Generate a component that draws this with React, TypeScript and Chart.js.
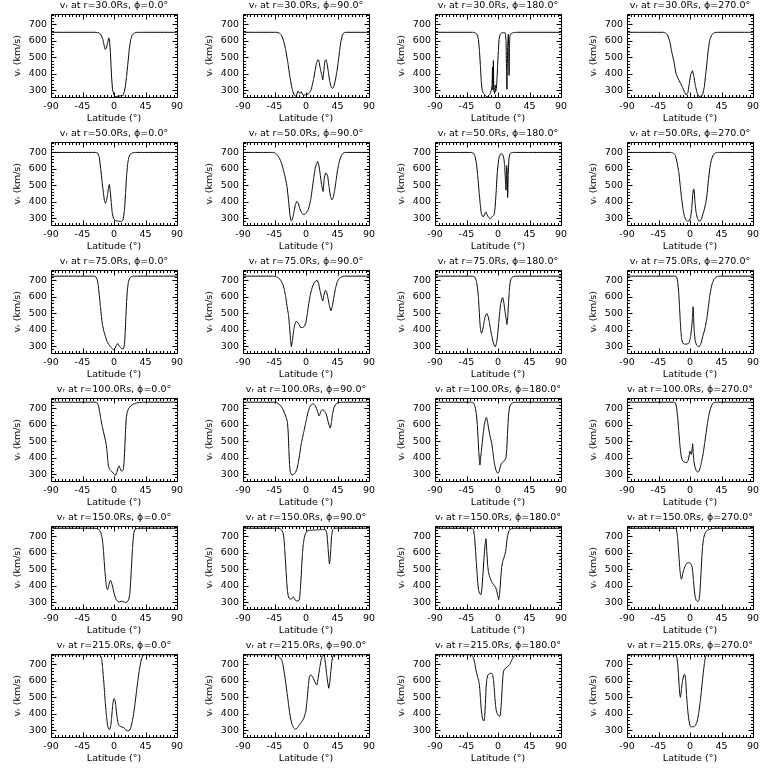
import React, { useEffect, useRef } from "react";
import { Chart, registerables } from "chart.js";

Chart.register(...registerables);

// ---------- categories / tick labels ----------
const radii = ["30.0", "50.0", "75.0", "100.0", "150.0", "215.0"];
const phis = ["0.0", "90.0", "180.0", "270.0"];
const latTicks = [-90, -45, 0, 45, 90];
const vTicks = [300, 400, 500, 600, 700];
const latRange = [-90, 90];
const vRange = [258, 761];

// ---------- series: [latitude (deg), v_r (km/s)] ----------
const r30_p0: number[][] = [[-90,652],[-26,652],[-22,649],[-19,640],[-16,610],[-14,570],[-12.5,548],[-11,556],[-9,590],[-7.5,618],[-6.5,612],[-5,520],[-3.5,380],[-2,300],[0,270],[2,260],[5,262],[9,265],[13,268],[15,295],[16.5,330],[18,385],[20,470],[22,555],[24,610],[26,635],[29,648],[33,652],[90,652]];
const r30_p90: number[][] = [[-90,652],[-42,652],[-38,647],[-35,635],[-32,600],[-29,545],[-26,470],[-23,380],[-20,310],[-17,270],[-14,262],[-11.5,295],[-10,285],[-8.5,280],[-7,290],[-5,275],[-3,268],[-1,272],[1,280],[3,275],[5,285],[7,300],[9,330],[11,370],[13,420],[15,465],[17,485],[18.5,480],[20,440],[22,400],[24,362],[25.5,420],[27,478],[28.5,485],[30,465],[32,410],[34,350],[36,320],[38,310],[40,325],[42,360],[44,410],[46,470],[48,540],[50,600],[52,635],[54,648],[57,652],[90,652]];
const r30_p180: number[][] = [[-90,652],[-36,652],[-33,650],[-30,640],[-28,610],[-26.5,540],[-25,440],[-24,360],[-23,310],[-21.5,285],[-19.5,274],[-17,262],[-15,260],[-13,268],[-11,280],[-9.5,300],[-8.5,330],[-7.8,440],[-7.2,300],[-6.6,480],[-6,300],[-5,280],[-4,330],[-3.5,290],[-2.5,300],[-1.5,360],[-0.5,450],[0.5,540],[1.5,610],[3,640],[5,648],[8,650],[10.5,648],[11.5,600],[12.2,420],[12.7,305],[13.2,420],[14,600],[14.8,640],[15.3,560],[15.8,390],[16.3,560],[17,630],[19,645],[22,650],[26,652],[90,652]];
const r30_p270: number[][] = [[-90,652],[-38,652],[-35,648],[-32,635],[-29,600],[-26,530],[-23,475],[-20,400],[-17,370],[-14,345],[-11,320],[-8,290],[-5.5,270],[-3,285],[-1,340],[1,395],[3.5,418],[5.5,385],[7.5,330],[10,285],[12.5,262],[15,262],[18,272],[20.5,320],[22.5,400],[24.5,480],[26.5,560],[28.5,610],[31,635],[34,648],[38,652],[90,652]];

const r50_p0: number[][] = [[-90,700],[-26,700],[-23,695],[-21,670],[-19,600],[-17,520],[-15,450],[-13.5,400],[-12,390],[-10.5,410],[-9,450],[-7.5,495],[-6.5,505],[-5.5,470],[-4,400],[-2.5,330],[-0.5,295],[2,285],[5,282],[8,280],[11,280],[13,290],[15,350],[16.5,450],[18,560],[19.5,630],[21,668],[23,688],[26,697],[30,700],[90,700]];
const r50_p90: number[][] = [[-90,700],[-47,700],[-44,696],[-41,685],[-38,665],[-35,635],[-33,605],[-30,555],[-27,490],[-25,410],[-23,320],[-21.5,285],[-19.5,290],[-17.5,330],[-15,385],[-13,402],[-11,390],[-9,360],[-7,338],[-5,326],[-3,320],[-1,325],[1,335],[3,350],[5,378],[7,420],[9,480],[11,545],[13,600],[15,630],[16.7,645],[18.5,620],[20.5,560],[22.5,495],[24.4,462],[26,540],[27.7,574],[29.5,570],[31,555],[33,490],[35,430],[37.2,412],[39,425],[41,470],[43,530],[45,590],[47,635],[49,665],[51,685],[53,696],[56,700],[90,700]];
const r50_p180: number[][] = [[-90,700],[-38,700],[-35,695],[-33,680],[-31,640],[-29,560],[-27,460],[-25.5,390],[-24,330],[-22.5,312],[-20.5,310],[-18.5,328],[-17,338],[-15.5,320],[-13.5,305],[-11,295],[-9,305],[-7,315],[-5.5,320],[-4,370],[-2.5,470],[-1,580],[1,660],[3,688],[5,692],[7,685],[8.5,660],[9.5,620],[10.5,540],[11.5,470],[12.3,620],[13,600],[13.8,425],[14.6,560],[15.5,660],[17,692],[19,698],[22,700],[90,700]];
const r50_p270: number[][] = [[-90,700],[-27,700],[-24,696],[-21,683],[-18.5,640],[-16,580],[-14,500],[-12,420],[-10,355],[-8,310],[-6,290],[-3.5,280],[-1,285],[1,305],[2.5,360],[3.8,440],[5,478],[6,470],[7,400],[8.5,340],[10.5,300],[12.5,284],[14.5,282],[16.5,295],[18.5,325],[20.5,355],[22.5,390],[24.5,450],[26.5,540],[28.5,610],[30.5,655],[33,683],[36,697],[40,700],[90,700]];

const r75_p0: number[][] = [[-90,726],[-28,726],[-26,722],[-24,705],[-22.5,670],[-21,610],[-19.5,545],[-18,480],[-16.5,430],[-14.5,390],[-12.5,362],[-10,330],[-7.5,310],[-5,295],[-2.5,285],[-0.5,278],[1.5,285],[3.5,305],[5.3,316],[7,305],[9,292],[11.5,282],[13.5,285],[15,310],[16,380],[17,480],[18,570],[19,640],[20.5,690],[22.5,715],[25,723],[28,726],[90,726]];
const r75_p90: number[][] = [[-90,726],[-46,726],[-42,722],[-39,715],[-36,700],[-33,675],[-31,645],[-29,600],[-27,540],[-25,490],[-23.5,420],[-22,340],[-21,296],[-19.5,330],[-17.5,400],[-15.5,440],[-14,452],[-12,445],[-10,432],[-8,415],[-6,412],[-4,415],[-2,422],[0,445],[2,500],[4,560],[6,610],[8,645],[10,670],[12,690],[14,695],[15.8,702],[18,680],[20.5,630],[22.5,590],[24,575],[25.5,610],[27.5,640],[29.5,630],[31.5,590],[33.5,545],[35.5,515],[37.5,540],[39.5,590],[42,650],[44.5,690],[47,710],[50,720],[53,725],[56,726],[90,726]];
const r75_p180: number[][] = [[-90,726],[-36,726],[-33,720],[-31,700],[-29.5,660],[-28,600],[-27,530],[-26,450],[-25,400],[-23.5,378],[-22,395],[-20.5,430],[-19,470],[-17,493],[-15.5,497],[-14,480],[-12.5,450],[-11,410],[-9,365],[-7,325],[-5,300],[-3.5,297],[-2,320],[-0.5,370],[1,440],[2.5,510],[4,560],[5.5,590],[7,595],[8.5,560],[10,510],[11.5,470],[12.8,432],[14,480],[15,560],[16,630],[17,680],[18.5,710],[21,722],[25,726],[90,726]];
const r75_p270: number[][] = [[-90,726],[-21,726],[-19,720],[-17.5,690],[-16,620],[-15,540],[-14,460],[-13,390],[-12,345],[-10.5,318],[-8,312],[-5,312],[-3,315],[-1,320],[1,360],[2.5,420],[3.5,470],[4.5,540],[5.2,470],[6,390],[7.5,330],[9.5,305],[12,296],[14,300],[16,320],[18,355],[20,385],[22,420],[24,465],[26,530],[28,600],[30,650],[32,685],[34,705],[37,720],[41,726],[90,726]];

const r100_p0: number[][] = [[-90,738],[-26,738],[-23.5,732],[-22,715],[-20.5,680],[-19,640],[-17,595],[-15,555],[-13,520],[-11.5,490],[-10,440],[-9,390],[-8,350],[-6.5,330],[-4.5,320],[-2,312],[0,300],[2,292],[4,310],[6,340],[7.5,350],[9,332],[10.5,318],[12,322],[13.5,330],[14.5,380],[15.5,470],[16.5,570],[17.5,640],[19,680],[21,700],[24,715],[28,727],[33,734],[40,738],[90,738]];
const r100_p90: number[][] = [[-90,738],[-46,738],[-42,735],[-39,728],[-36,715],[-33,695],[-30,665],[-28,640],[-26.5,615],[-25.5,560],[-24.5,450],[-23.5,360],[-22.5,310],[-21,298],[-19,296],[-17,300],[-15,310],[-13,330],[-11,370],[-9,420],[-7,480],[-5,520],[-3,560],[-1,600],[1,640],[3,680],[5,705],[7,720],[9,727],[11,726],[13,718],[15,700],[17,675],[18.5,655],[20,665],[21.5,685],[23,692],[25,690],[27,680],[29,665],[31,630],[33,595],[35,580],[36.5,620],[38,670],[40,705],[42.5,725],[45,734],[50,738],[90,738]];
const r100_p180: number[][] = [[-90,738],[-37,738],[-35,733],[-33,715],[-31,670],[-29.5,600],[-28.5,520],[-27.5,440],[-26.5,380],[-25.8,355],[-25,390],[-24,430],[-22.5,490],[-21,550],[-19.5,600],[-18,630],[-17,645],[-16,640],[-15,620],[-13.5,580],[-12,545],[-10.5,515],[-9,490],[-7.5,440],[-6,390],[-4.5,350],[-3,325],[-1.5,310],[0,305],[1.5,315],[3,340],[4.5,360],[6,370],[8,378],[10,385],[11.5,400],[12.5,450],[13.5,540],[14.5,620],[15.5,680],[17,715],[19,730],[22,736],[26,738],[90,738]];
const r100_p270: number[][] = [[-90,738],[-23,738],[-20.5,732],[-19,700],[-17.5,640],[-16,560],[-14.5,480],[-13,420],[-11.5,390],[-10,378],[-8,372],[-6,370],[-4,372],[-2.5,385],[-1,420],[0,440],[1,425],[2,420],[3,450],[3.8,485],[4.6,430],[5.5,380],[7,345],[9,320],[11,312],[13,318],[15,345],[17,385],[19,430],[21,490],[23,550],[25,610],[27,660],[29,695],[31,720],[33,733],[36,738],[90,738]];

const r150_p0: number[][] = [[-90,750],[-28,750],[-24,747],[-21,740],[-19,725],[-17.5,700],[-16,660],[-15,610],[-14,550],[-13,490],[-12,440],[-11,400],[-10,380],[-9,376],[-8,390],[-7,410],[-6,425],[-5,432],[-4,425],[-3,410],[-1.5,385],[0,355],[2,325],[4,310],[6,303],[8,302],[10,304],[12,305],[13.5,302],[15,300],[17,298],[19,302],[21,315],[22.5,345],[23.5,400],[24.5,480],[25.5,560],[26.5,630],[27.5,690],[28.5,725],[30,742],[33,748],[37,750],[90,750]];
const r150_p90: number[][] = [[-90,750],[-40,750],[-37,747],[-35,740],[-33,725],[-31.5,690],[-30.5,630],[-29.5,560],[-28.5,490],[-27.5,420],[-26.5,370],[-25.5,340],[-24,322],[-22,318],[-20,322],[-18.5,332],[-17,325],[-15.5,312],[-13.5,308],[-11.5,306],[-10,310],[-9,330],[-8,380],[-7,450],[-6,530],[-5,600],[-4,650],[-2.5,690],[-1,715],[1,730],[3,736],[6,738],[9,738],[12,739],[15,740],[18,740],[21,741],[24,742],[26,742],[28,740],[29.5,725],[30.5,690],[31.5,630],[32.5,570],[33.5,532],[34.5,560],[35.5,630],[36.5,700],[38,738],[40,748],[43,750],[90,750]];
const r150_p180: number[][] = [[-90,750],[-37,750],[-35,740],[-33.5,700],[-32,610],[-31,545],[-30,483],[-29,420],[-27.7,370],[-26,350],[-24.4,345],[-23,380],[-21.5,470],[-20,570],[-18.5,650],[-17.2,686],[-16,610],[-14.8,523],[-13.5,480],[-12.4,462],[-10.5,438],[-9,422],[-7,410],[-5.3,401],[-3.5,390],[-1.9,371],[-0.5,340],[1,316],[2,340],[2.9,381],[4,450],[5.3,513],[6.5,545],[8,564],[10,590],[11.5,625],[12.8,680],[13.8,706],[15.5,732],[17.7,745],[21,749],[25,750],[90,750]];
const r150_p270: number[][] = [[-90,750],[-22,750],[-19.5,745],[-18.5,720],[-17.5,680],[-16.5,620],[-15.5,560],[-14.5,500],[-13.5,460],[-12.5,440],[-11.5,445],[-10.5,470],[-9,495],[-7.5,515],[-6,528],[-4.5,536],[-3,540],[-1.5,540],[0,538],[1.5,532],[3,515],[4,480],[5,430],[6,380],[7,345],[8,322],[9,310],[10,305],[11,304],[12,306],[13,315],[14,350],[15,420],[16,500],[17,580],[18,640],[19.5,690],[21,715],[23,730],[26,740],[30,746],[35,750],[90,750]];

const r215_p0: number[][] = [[-90,759],[-21,759],[-19,752],[-17.5,730],[-16.5,690],[-15.5,640],[-14.5,590],[-13.5,530],[-12.5,470],[-11.5,420],[-10.5,375],[-9.5,340],[-8.5,318],[-7.5,306],[-6.5,303],[-5.5,310],[-4.5,330],[-3.5,370],[-2.5,420],[-1.5,465],[-0.5,488],[0.5,492],[1.5,480],[2.5,450],[3.5,410],[4.5,375],[5.5,350],[6.5,335],[8,325],[10,320],[12,318],[14,315],[16,305],[18,298],[20,295],[22,298],[24,315],[26,350],[28,400],[30,460],[32,530],[34,600],[36,660],[38,710],[40,742],[42,757],[44,759],[90,759]];
const r215_p90: number[][] = [[-90,759],[-44,759],[-41,755],[-38,745],[-36,735],[-34.4,722],[-33,700],[-31,650],[-29,590],[-27,525],[-25,460],[-23.4,405],[-21.5,360],[-19.6,330],[-17.5,312],[-15.8,305],[-14,308],[-12,315],[-10,328],[-8,340],[-6,352],[-3.3,370],[-1.5,395],[0,420],[1.2,470],[2.4,523],[3.5,580],[4.8,625],[6.5,636],[8.5,630],[10.5,615],[12.5,595],[14.5,578],[15.8,575],[17.5,620],[19.6,680],[21.5,725],[23,748],[25,757],[26.5,745],[28,700],[29.5,640],[31,590],[32.5,555],[34,590],[35.5,660],[37,720],[38.5,750],[40,759],[90,759]];
const r215_p180: number[][] = [[-90,759],[-39,759],[-37,755],[-35,740],[-33,705],[-31.5,665],[-30,640],[-28.5,615],[-27,590],[-26,550],[-25,490],[-24,430],[-23,390],[-22,368],[-21,358],[-20,356],[-19,380],[-18,460],[-17,560],[-16,610],[-14.5,635],[-13,642],[-11,646],[-9,645],[-7.5,635],[-6.5,610],[-5.5,560],[-4.5,500],[-3.5,450],[-2.5,420],[-1,398],[0.5,388],[2,384],[3,386],[4,420],[5,480],[6,560],[7,630],[8,660],[9.5,673],[11.5,678],[13.5,685],[15,692],[17,702],[19,720],[21,737],[23,750],[25,757],[27,759],[90,759]];
const r215_p270: number[][] = [[-90,759],[-21,759],[-19.5,752],[-18.5,735],[-17.5,700],[-16.5,640],[-15.5,570],[-14.5,515],[-13.8,500],[-13,515],[-12,555],[-11,590],[-10,615],[-9,632],[-8,640],[-7,635],[-6,595],[-5,520],[-4,460],[-3,410],[-2,375],[-1,345],[0,328],[1,322],[2,320],[4,320],[6,322],[8,330],[10,350],[11.5,380],[13,420],[14.5,470],[16,525],[17.5,590],[19,650],[20.5,705],[22,745],[23.5,757],[25,759],[90,759]];

const panelSeries: number[][][][] = [
  [r30_p0, r30_p90, r30_p180, r30_p270],
  [r50_p0, r50_p90, r50_p180, r50_p270],
  [r75_p0, r75_p90, r75_p180, r75_p270],
  [r100_p0, r100_p90, r100_p180, r100_p270],
  [r150_p0, r150_p90, r150_p180, r150_p270],
  [r215_p0, r215_p90, r215_p180, r215_p270],
];

const FONT = "'DejaVu Sans', sans-serif";
const CELL_W = 192;
const CELL_H = 128;

// inward IDL-style ticks on all four sides + frame
const framePlugin = {
  id: "idlFrame",
  afterDraw(chart: any) {
    const { ctx, chartArea: a, scales } = chart;
    const xs = scales.x;
    const ys = scales.y;
    const L = Math.round(a.left) + 0.5;
    const R = Math.round(a.right) + 0.5;
    const T = Math.round(a.top) + 0.5;
    const B = Math.round(a.bottom) + 0.5;
    ctx.save();
    ctx.strokeStyle = "#000";
    ctx.lineWidth = 1;
    ctx.beginPath();
    ctx.rect(L, T, R - L, B - T);
    for (let v = latRange[0]; v <= latRange[1]; v += 5) {
      const px = Math.round(xs.getPixelForValue(v)) + 0.5;
      const len = v % 45 === 0 ? 5 : 2.5;
      ctx.moveTo(px, B);
      ctx.lineTo(px, B - len);
      ctx.moveTo(px, T);
      ctx.lineTo(px, T + len);
    }
    for (let v = 260; v <= vRange[1]; v += 20) {
      if (v < vRange[0]) continue;
      const py = Math.round(ys.getPixelForValue(v)) + 0.5;
      const len = v % 100 === 0 ? 5 : 2.5;
      ctx.moveTo(L, py);
      ctx.lineTo(L + len, py);
      ctx.moveTo(R, py);
      ctx.lineTo(R - len, py);
    }
    ctx.stroke();
    ctx.restore();
  },
};

function Panel({ series, title, left, top }: { series: number[][]; title: string; left: number; top: number }) {
  const ref = useRef<HTMLCanvasElement>(null);
  useEffect(() => {
    const font = { family: FONT, size: 9.5 };
    const chart = new Chart(ref.current as HTMLCanvasElement, {
      type: "line",
      data: {
        datasets: [
          {
            data: series.map(([x, y]) => ({ x, y })),
            borderColor: "#000",
            borderWidth: 1,
            pointRadius: 0,
            tension: 0.0001,
            fill: false,
          },
        ],
      },
      options: {
        responsive: false,
        animation: false,
        devicePixelRatio: 1,
        events: [],
        layout: { padding: { left: 0, right: 15, top: 0, bottom: 0 } },
        plugins: {
          legend: { display: false },
          tooltip: { enabled: false },
          title: {
            display: true,
            text: title,
            color: "#000",
            fullSize: false,
            font: { family: FONT, size: 9.5, weight: "normal" },
            padding: { top: 0, bottom: 3 },
          },
        },
        scales: {
          x: {
            type: "linear",
            min: latRange[0],
            max: latRange[1],
            afterBuildTicks: (s: any) => {
              s.ticks = latTicks.map((value) => ({ value }));
            },
            afterFit: (s: any) => {
              s.height = 31;
            },
            grid: { display: false, drawTicks: false },
            border: { display: false },
            ticks: { color: "#000", font, padding: 4, maxRotation: 0, autoSkip: false },
            title: { display: true, text: "Latitude (°)", color: "#000", font, padding: { top: 0, bottom: 4 } },
          },
          y: {
            type: "linear",
            min: vRange[0],
            max: vRange[1],
            afterBuildTicks: (s: any) => {
              s.ticks = vTicks.map((value) => ({ value }));
            },
            afterFit: (s: any) => {
              s.width = 51;
            },
            grid: { display: false, drawTicks: false },
            border: { display: false },
            ticks: { color: "#000", font, padding: 4, autoSkip: false },
            title: { display: true, text: "vᵣ (km/s)", color: "#000", font, padding: { top: 12, bottom: 0 } },
          },
        },
      },
      plugins: [framePlugin],
    } as any);
    return () => chart.destroy();
  }, [series, title]);
  return (
    <canvas
      ref={ref}
      width={CELL_W}
      height={CELL_H}
      style={{ position: "absolute", left, top, width: CELL_W, height: CELL_H }}
    />
  );
}

export default function App() {
  return (
    <div style={{ position: "fixed", left: 0, top: 0, width: 768, height: 768, background: "#fff" }}>
      {radii.map((r, i) =>
        phis.map((p, j) => (
          <Panel
            key={`${i}-${j}`}
            series={panelSeries[i][j]}
            title={`vᵣ at r=${r}Rs, ϕ=${p}°`}
            left={j * CELL_W}
            top={i * CELL_H}
          />
        ))
      )}
    </div>
  );
}
